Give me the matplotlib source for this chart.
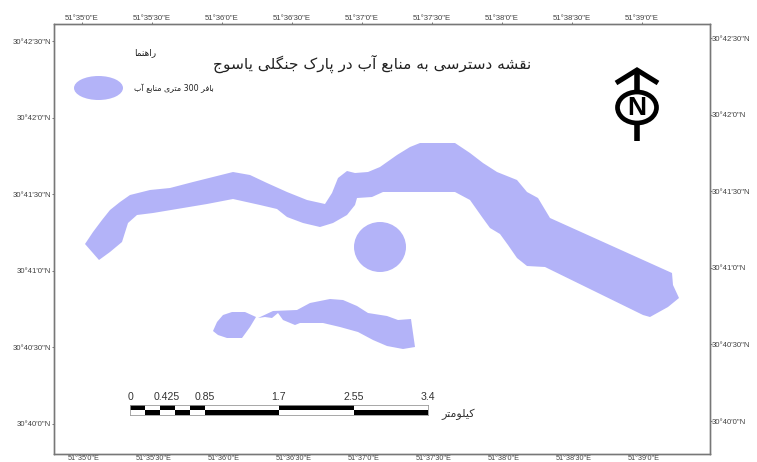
import matplotlib
matplotlib.use('Agg')
import matplotlib.pyplot as plt
from matplotlib.patches import Ellipse, Polygon, Rectangle

FIG_W, FIG_H = 757, 462
FILL = '#b3b3f8'
GREY = '#444444'
FRAME = '#777777'

TITLE = 'نقشه دسترسی به منابع آب در پارک جنگلی یاسوج'
LEGEND_TITLE = 'راهنما'
LEGEND_LABEL = 'بافر 300 متری منابع آب'
SCALE_UNIT = 'کیلومتر'

LON_SECONDS = [0, 30, 60, 90, 120, 150, 180, 210, 240]
LON_LABELS = ['51°35\'0"E', '51°35\'30"E', '51°36\'0"E', '51°36\'30"E', '51°37\'0"E',
              '51°37\'30"E', '51°38\'0"E', '51°38\'30"E', '51°39\'0"E']
LAT_SECONDS = [0, 30, 60, 90, 120, 150]
LAT_LABELS = ['30°40\'0"N', '30°40\'30"N', '30°41\'0"N', '30°41\'30"N', '30°42\'0"N', '30°42\'30"N']

# outlines, in picture pixels
BUFFER_MAIN = [(85, 244), (93, 232), (102, 220), (110, 210), (120, 202), (130, 195), (150, 190),
               (170, 188), (193, 182), (213, 177), (233, 172), (250, 175), (267, 183), (287, 192),
               (307, 200), (325, 204), (332, 193), (338, 178), (347, 171), (355, 173), (368, 172),
               (380, 167), (397, 155), (410, 147), (420, 143), (455, 143), (470, 153), (483, 163),
               (497, 172), (517, 180), (527, 192), (538, 198), (550, 218), (672, 273), (673, 285),
               (679, 298), (668, 307), (650, 317), (643, 315), (545, 267), (527, 266), (517, 258),
               (508, 245), (500, 234), (490, 228), (482, 217), (470, 200), (455, 192), (383, 192),
               (372, 197), (357, 198), (355, 205), (347, 215), (333, 223), (320, 227), (303, 223),
               (287, 217), (277, 209), (260, 205), (233, 199), (207, 204), (177, 209), (153, 213),
               (137, 215), (128, 223), (122, 242), (110, 252), (99, 260)]
BUFFER_SOUTH_W = [(213, 331), (217, 322), (223, 315), (232, 312), (245, 312), (256, 317),
                  (250, 327), (242, 338), (227, 338), (218, 335)]
BUFFER_SOUTH_E = [(258, 318), (273, 311), (297, 310), (310, 303), (330, 299), (343, 300),
                  (357, 306), (368, 313), (387, 316), (398, 320), (411, 319), (413, 333),
                  (415, 347), (403, 349), (387, 346), (373, 340), (358, 332), (340, 327),
                  (323, 323), (300, 323), (295, 325), (283, 320), (278, 313), (272, 318),
                  (265, 317)]
SPRING_CENTER = (380, 247)
SPRING_RADIUS = (26, 25)

SCALE_TICKS = [0, 0.425, 0.85, 1.7, 2.55, 3.4]
SCALE_TICK_LABELS = ['0', '0.425', '0.85', '1.7', '2.55', '3.4']
SCALE_EDGES = [0, 0.17, 0.34, 0.51, 0.68, 0.85, 1.7, 2.55, 3.4]

# glyph forms: isolated, final, initial, medial
FORMS = {
    'ا': 'ﺍﺎ', 'آ': 'ﺁﺂ', 'د': 'ﺩﺪ', 'ر': 'ﺭﺮ', 'و': 'ﻭﻮ',
    'ب': 'ﺏﺐﺑﺒ', 'پ': 'ﭖﭗﭘﭙ', 'ت': 'ﺕﺖﺗﺘ', 'ج': 'ﺝﺞﺟﺠ', 'س': 'ﺱﺲﺳﺴ', 'ش': 'ﺵﺶﺷﺸ',
    'ع': 'ﻉﻊﻋﻌ', 'ف': 'ﻑﻒﻓﻔ', 'ق': 'ﻕﻖﻗﻘ', 'ک': 'ﮎﮏﮐﮑ', 'گ': 'ﮒﮓﮔﮕ', 'ل': 'ﻝﻞﻟﻠ',
    'م': 'ﻡﻢﻣﻤ', 'ن': 'ﻥﻦﻧﻨ', 'ه': 'ﻩﻪﻫﻬ', 'ی': 'ﯼﯽﯾﯿ',
}


def shape_word(word):
    out = []
    for i, c in enumerate(word):
        forms = FORMS[c]
        joins_prev = i > 0 and len(FORMS[word[i - 1]]) == 4
        joins_next = i < len(word) - 1 and len(forms) == 4
        if joins_prev and joins_next:
            out.append(forms[3])
        elif joins_prev:
            out.append(forms[1])
        elif joins_next:
            out.append(forms[2])
        else:
            out.append(forms[0])
    return ''.join(reversed(out))


def farsi(text):
    words = []
    for w in text.split(' '):
        words.append(w if w.isdigit() else shape_word(w))
    return ' '.join(reversed(words))


def lon_s(px):
    return (px - 84) * 30 / 70.0


def lat_s(py):
    return (424 - py) * 30 / 76.6


def geo(points):
    return [(lon_s(x), lat_s(y)) for x, y in points]


plt.rcParams['font.family'] = ['Liberation Sans', 'DejaVu Sans']

fig = plt.figure(figsize=(FIG_W / 100, FIG_H / 100), dpi=100)
L, R, T, B = 54, 710, 24, 454
ax = fig.add_axes([L / FIG_W, 1 - B / FIG_H, (R - L) / FIG_W, (B - T) / FIG_H])
ax.set_xlim(lon_s(L), lon_s(R))
ax.set_ylim(lat_s(B), lat_s(T))

for outline in [BUFFER_MAIN, BUFFER_SOUTH_W, BUFFER_SOUTH_E]:
    ax.add_patch(Polygon(geo(outline), closed=True, fc=FILL, ec='none'))
ax.add_patch(Ellipse((lon_s(SPRING_CENTER[0]), lat_s(SPRING_CENTER[1])),
                     2 * SPRING_RADIUS[0] * 30 / 70.0, 2 * SPRING_RADIUS[1] * 30 / 76.6,
                     fc=FILL, ec='none'))

ax.set_xticks(LON_SECONDS)
ax.set_xticklabels(LON_LABELS)
ax.set_yticks(LAT_SECONDS)
ax.set_yticklabels(LAT_LABELS)
ax.tick_params(length=1.5, width=0.5, pad=0.5, labelsize=5.6, colors=GREY)
ax.tick_params(axis='x', length=1, pad=0, labelsize=5.2)

# the graticule is slightly rotated, so top and right ticks sit a little off
top = ax.twiny()
top.set_xlim(lon_s(L + 2), lon_s(R + 2))
top.set_xticks(LON_SECONDS)
top.set_xticklabels(LON_LABELS)
right = ax.twinx()
right.set_ylim(lat_s(B + 3), lat_s(T + 3))
right.set_yticks(LAT_SECONDS)
right.set_yticklabels(LAT_LABELS)
for a in [top, right]:
    a.tick_params(length=1.5, width=0.5, pad=0, labelsize=5.6, colors=GREY)
for a in [ax, top, right]:
    for s in a.spines.values():
        s.set_color(FRAME)
        s.set_linewidth(0.9)

# map furniture, placed in picture pixels
over = fig.add_axes([0, 0, 1, 1])
over.set_xlim(0, FIG_W)
over.set_ylim(FIG_H, 0)
over.axis('off')
over.patch.set_alpha(0)

over.text(372, 64, farsi(TITLE), family='DejaVu Sans', fontsize=11.1, ha='center', va='center', color='#222222')
over.text(145, 53, farsi(LEGEND_TITLE), family='DejaVu Sans', fontsize=6.4, ha='center', va='center', color='#222222')
over.text(174, 88, farsi(LEGEND_LABEL), family='DejaVu Sans', fontsize=5.7, ha='center', va='center', color='#222222')
over.add_patch(Ellipse((98.5, 88), 49, 24, fc=FILL, ec='none'))

# north arrow
over.plot([637, 637], [70, 92], color='k', lw=4, solid_capstyle='butt')
over.plot([637, 637], [125, 141], color='k', lw=4, solid_capstyle='butt')
over.plot([616, 637, 658], [83, 70, 83], color='k', lw=3.6, solid_joinstyle='miter', solid_capstyle='butt')
over.add_patch(Ellipse((637, 107.5), 39, 31, fc='white', ec='k', lw=3.4))
over.text(637, 108, 'N', family='Liberation Sans', fontweight='bold', fontsize=19, ha='center', va='center', color='k')

# scale bar
BAR_X0, BAR_X1 = 130, 428
bar = fig.add_axes([BAR_X0 / FIG_W, 1 - 415 / FIG_H, (BAR_X1 - BAR_X0) / FIG_W, 10 / FIG_H])
bar.set_xlim(SCALE_EDGES[0], SCALE_EDGES[-1])
bar.set_ylim(0, 2)
for i in range(len(SCALE_EDGES) - 1):
    x0, x1 = SCALE_EDGES[i], SCALE_EDGES[i + 1]
    top_black = i in (0, 2, 4, 6)
    bar.add_patch(Rectangle((x0, 1), x1 - x0, 1, fc='k' if top_black else 'white', ec='none'))
    bar.add_patch(Rectangle((x0, 0), x1 - x0, 1, fc='white' if top_black else 'k', ec='none'))
bar.set_xticks(SCALE_TICKS)
bar.set_xticklabels(SCALE_TICK_LABELS)
bar.set_yticks([])
bar.tick_params(axis='x', top=True, bottom=False, labeltop=True, labelbottom=False,
                length=0, pad=2.5, labelsize=7.6, labelcolor='#333333')
for s in bar.spines.values():
    s.set_color('#999999')
    s.set_linewidth(0.6)

over.text(458, 414, farsi(SCALE_UNIT), family='DejaVu Sans', fontsize=8, ha='center', va='center', color='#333333')

fig.savefig('out.png', dpi=100)
